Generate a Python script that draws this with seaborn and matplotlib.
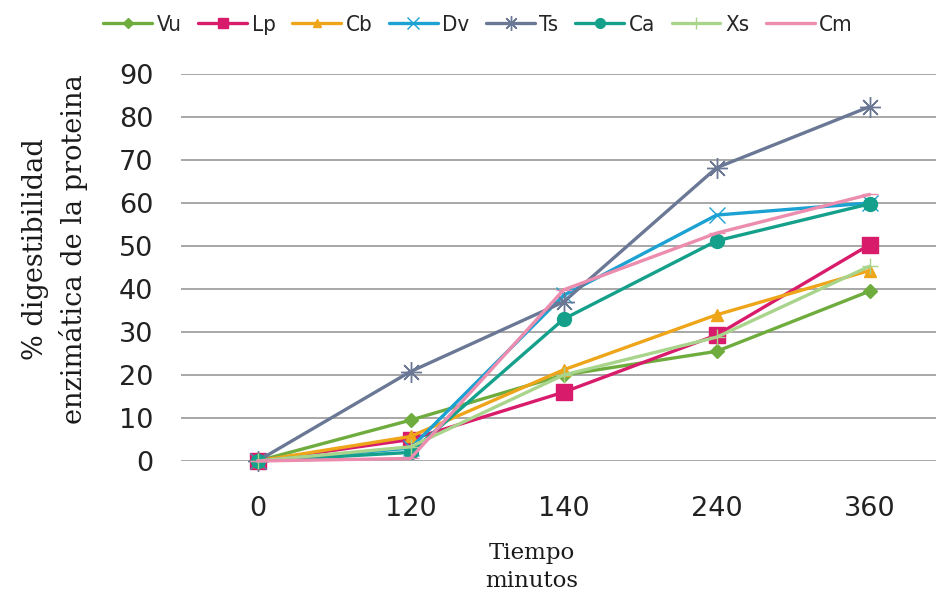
import numpy as np
import pandas as pd
import matplotlib
matplotlib.use("Agg")
import matplotlib.pyplot as plt
import seaborn as sns

categories = ["0", "120", "140", "240", "360"]
series_names = ["Vu", "Lp", "Cb", "Dv", "Ts", "Ca", "Xs", "Cm"]
Vu = [0, 9.5, 20, 25.5, 39.5]
Lp = [0, 5, 16, 29.3, 50.3]
Cb = [0, 5.7, 21.2, 34, 44.3]
Dv = [0, 3, 38.5, 57.2, 60]
Ts = [0, 20.8, 37, 68.2, 82.4]
Ca = [0, 2, 33, 51.2, 59.8]
Xs = [0, 3.3, 20, 28.8, 45.3]
Cm = [0, 0.6, 39.8, 53, 62]
values = [Vu, Lp, Cb, Dv, Ts, Ca, Xs, Cm]

colors = ["#6fac3e", "#d81b6a", "#eea51a", "#1ba1d2", "#6a7895", "#14a08a", "#a9d48c", "#ec8cae"]
markers = ["D", "s", "^", "x", (8, 2, 0), "o", "+", "_"]
msizes = [7, 11, 9, 12, 15, 10, 12, 12]

rows = []
for name, vals in zip(series_names, values):
    for i, v in enumerate(vals):
        rows.append({"serie": name, "pos": i, "valor": v})
df = pd.DataFrame(rows)

sns.set_theme(style="white")
plt.rcParams['font.family'] = ['DejaVu Sans']

fig = plt.figure(figsize=(9.37, 5.99), dpi=100)
ax = fig.add_axes([181/937, 1-461/599, 1-181/937, (461-74)/599])

for name, c, m, ms in zip(series_names, colors, markers, msizes):
    sub = df[df["serie"] == name]
    sns.lineplot(data=sub, x="pos", y="valor", ax=ax, color=c, marker=m,
                 markersize=ms, linewidth=2.4, markeredgecolor=c,
                 markeredgewidth=1.0, label=name, clip_on=False, zorder=3)

ax.set_xlim(-0.5, 4.44)
ax.set_ylim(0, 90)
ax.set_yticks(np.arange(0, 91, 10))
ax.set_xticks(range(len(categories)))
ax.set_xticklabels(categories)
ax.yaxis.grid(True, color="#a0a0a0", linewidth=1.3)
ax.xaxis.grid(False)
for s in ax.spines.values():
    s.set_visible(False)
ax.tick_params(axis="y", length=0, pad=20, labelsize=19.5, labelcolor="#222222")
ax.tick_params(axis="x", length=0, pad=25, labelsize=19.5, labelcolor="#222222")
ax.set_xlabel("")
ax.set_ylabel("")

handles, labels = ax.get_legend_handles_labels()
ax.legend(handles, labels, loc="center", bbox_to_anchor=(478/937, 1-25/599),
          bbox_transform=fig.transFigure, ncol=8, frameon=False,
          handlelength=2.2, handletextpad=0.2, columnspacing=0.75,
          prop={"family": "DejaVu Sans", "stretch": "condensed", "size": 16},
          markerscale=0.7)

fig.text(55/937, 1-249/599, "% digestibilidad\nenzimática de la proteina",
         rotation=90, ha="center", va="center", multialignment="center",
         family="DejaVu Serif", fontsize=19.5, color="#1a1a1a", linespacing=1.4)
fig.text(532/937, 1-567/599, "Tiempo\nminutos", ha="center", va="center",
         multialignment="center", family="DejaVu Serif", fontsize=16.5,
         color="#1a1a1a", linespacing=1.35)

fig.savefig("out.png", dpi=100, facecolor="white")
